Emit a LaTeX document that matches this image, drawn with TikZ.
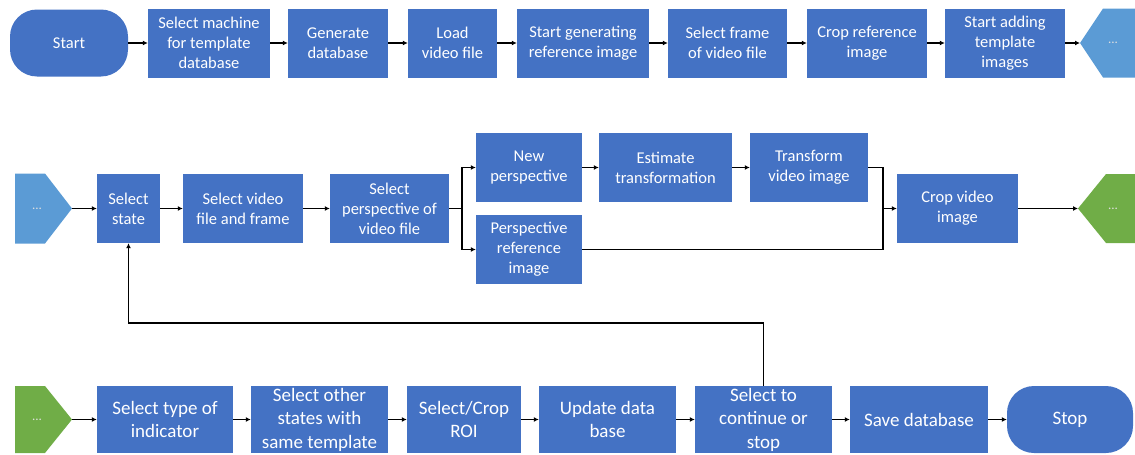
\documentclass[tikz,border=0pt]{standalone}
\usepackage{fontspec}
\setmainfont{Carlito}
\usetikzlibrary{arrows.meta}
\definecolor{boxblue}{HTML}{4472C4}
\definecolor{linkblue}{HTML}{5B9BD5}
\definecolor{linkgreen}{HTML}{70AD47}
\begin{document}
\begin{tikzpicture}[x=1pt,y=-1pt,
  proc/.style={rectangle, fill=boxblue, text=white, align=center, inner sep=0pt, minimum height=69pt},
  term/.style={rectangle, rounded corners=27pt, fill=boxblue, text=white, inner sep=0pt, minimum height=67pt},
  txtA/.style={font=\fontsize{16.5}{20}\selectfont},
  txtB/.style={font=\fontsize{19}{23.5}\selectfont, minimum height=67pt},
  flow/.style={line width=1.5pt, -{Latex[length=5pt,width=5pt]}},
  wire/.style={line width=1.5pt},
  dots/.style={text=white!88!black, inner sep=0pt, font=\fontsize{13}{13}\selectfont}
]
\useasboundingbox (0,0) rectangle (1135,455);

% ---------- first row: reference image ----------
\node[term,txtA,minimum width=118pt] (start) at (69,43) {Start};
\node[proc,txtA,minimum width=122pt] (machine) at (209,43) {Select machine\\for template\\database};
\node[proc,txtA,minimum width=100pt] (gendb) at (338,43) {Generate\\database};
\node[proc,txtA,minimum width=89pt] (load) at (452.5,43) {Load\\video file};
\node[proc,txtA,minimum width=132pt] (startref) at (583,43) {Start generating\\reference image};
\node[proc,txtA,minimum width=119pt] (frame) at (727.5,43) {Select frame\\of video file};
\node[proc,txtA,minimum width=120pt] (cropref) at (867,43) {Crop reference\\image};
\node[proc,txtA,minimum width=120pt] (adding) at (1005,43) {Start adding\\template\\images};
\fill[linkblue] (1080,43) -- (1103,8.5) -- (1135,8.5) -- (1135,77.5) -- (1103,77.5) -- cycle;
\coordinate (off1) at (1080,43);
\node[dots] (off1dots) at (1113,43) {...};

\draw[flow] (start.east) -- (machine.west);
\draw[flow] (machine.east) -- (gendb.west);
\draw[flow] (gendb.east) -- (load.west);
\draw[flow] (load.east) -- (startref.west);
\draw[flow] (startref.east) -- (frame.west);
\draw[flow] (frame.east) -- (cropref.west);
\draw[flow] (cropref.east) -- (adding.west);
\draw[flow] (adding.east) -- (off1);

% ---------- second row: template images ----------
\fill[linkblue] (15,173.5) -- (45,173.5) -- (72,208.5) -- (45,243.5) -- (15,243.5) -- cycle;
\coordinate (off2) at (72,208.5);
\node[dots] (off2dots) at (37,208.5) {...};
\node[proc,txtA,minimum width=63pt] (state) at (128.5,208.5) {Select\\state};
\node[proc,txtA,minimum width=120pt] (vidframe) at (243,208.5) {Select video\\file and frame};
\node[proc,txtA,minimum width=119pt] (persp) at (389.5,208.5) {Select\\perspective of\\video file};
\node[proc,txtA,minimum width=106pt] (newp) at (529,167.5) {New\\perspective};
\node[proc,txtA,minimum width=106pt] (pref) at (529,249.5) {Perspective\\reference\\image};
\node[proc,txtA,minimum width=133pt] (est) at (665.5,167.5) {Estimate\\transformation};
\node[proc,txtA,minimum width=118pt] (tvi) at (809,167.5) {Transform\\video image};
\node[proc,txtA,minimum width=121pt] (cropvid) at (957.5,208.5) {Crop video\\image};
\fill[linkgreen] (1078,208.5) -- (1106,174) -- (1135,174) -- (1135,243) -- (1106,243) -- cycle;
\coordinate (off3) at (1078,208.5);
\node[dots] (off3dots) at (1113,208.5) {...};

\coordinate (split) at (462,208.5);
\coordinate (merge) at (883,208.5);
\draw[flow] (off2) -- (state.west);
\draw[flow] (state.east) -- (vidframe.west);
\draw[flow] (vidframe.east) -- (persp.west);
\draw[wire] (persp.east) -- (split);
\draw[flow] (split) |- (newp.west);
\draw[flow] (split) |- (pref.west);
\draw[flow] (newp.east) -- (est.west);
\draw[flow] (est.east) -- (tvi.west);
\draw[wire] (tvi.east) -| (merge);
\draw[wire] (pref.east) -| (merge);
\draw[flow] (merge) -- (cropvid.west);
\draw[flow] (cropvid.east) -- (off3);

% ---------- third row: indicator and database ----------
\fill[linkgreen] (15,386) -- (45,386) -- (72,419.5) -- (45,453) -- (15,453) -- cycle;
\coordinate (off4) at (72,419.5);
\node[dots] (off4dots) at (37,419.5) {...};
\node[proc,txtB,minimum width=136pt] (indicator) at (165,419.5) {Select type of\\indicator};
\node[proc,txtB,minimum width=137pt] (others) at (319.5,419.5) {Select other\\states with\\same template};
\node[proc,txtB,minimum width=114pt] (roi) at (464,419.5) {Select/Crop\\ROI};
\node[proc,txtB,minimum width=137pt] (update) at (607.5,419.5) {Update data\\base};
\node[proc,txtB,minimum width=137pt] (cont) at (763.5,419.5) {Select to\\continue or\\stop};
\node[proc,txtB,minimum width=138pt] (save) at (919,419.5) {Save database};
\node[term,txtB,minimum width=126pt] (stop) at (1070,419.5) {Stop};

\draw[flow] (off4) -- (indicator.west);
\draw[flow] (indicator.east) -- (others.west);
\draw[flow] (others.east) -- (roi.west);
\draw[flow] (roi.east) -- (update.west);
\draw[flow] (update.east) -- (cont.west);
\draw[flow] (cont.east) -- (save.west);
\draw[flow] (save.east) -- (stop.west);

% loop back to the state selection
\coordinate (back) at (128.5,323);
\draw[flow] (cont.north) |- (back) -- (state.south);
\end{tikzpicture}
\end{document}
